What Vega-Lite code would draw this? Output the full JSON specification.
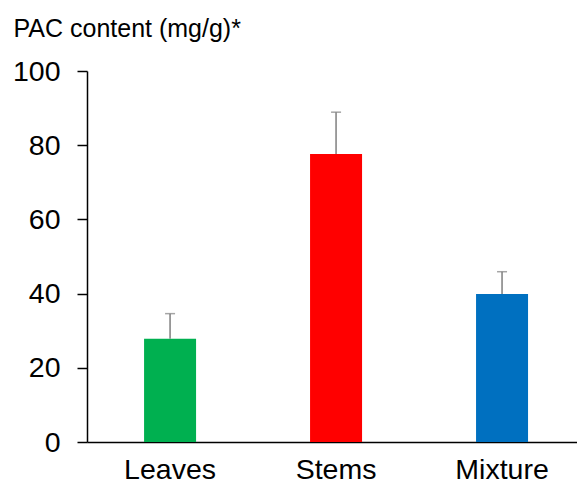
{
  "$schema": "https://vega.github.io/schema/vega-lite/v6.json",
  "autosize": "none",
  "padding": {"left": 87, "top": 71, "right": 0, "bottom": 48},
  "width": 490,
  "height": 371,
  "config": {"view": {"stroke": null}, "font": "Liberation Sans"},
  "data": {"values": [
    {"part": "Leaves", "pac": 27.8, "upper": 34.6, "color": "#00B050"},
    {"part": "Stems", "pac": 77.6, "upper": 88.9, "color": "#FF0000"},
    {"part": "Mixture", "pac": 39.9, "upper": 45.9, "color": "#0070C0"}
  ]},
  "encoding": {
    "x": {"field": "part", "type": "nominal", "sort": null,
      "scale": {"paddingInner": 0.1, "paddingOuter": 0.026, "align": 0.97},
      "axis": {"title": null, "labelAngle": 0, "labelFontSize": 28.5, "labelColor": "#000", "labelPadding": 13,
        "ticks": false, "domainColor": "#000", "domainWidth": 1.5}}
  },
  "layer": [
    {"mark": {"type": "bar", "size": 52},
     "encoding": {
       "y": {"field": "pac", "type": "quantitative",
         "scale": {"domain": [0, 100]},
         "axis": {"values": [0, 20, 40, 60, 80, 100], "grid": false, "title": "PAC content (mg/g)*",
           "titleAngle": 0, "titleAlign": "left", "titleBaseline": "alphabetic", "titleX": -74, "titleY": -35,
           "titleFontSize": 25, "titleFontWeight": "normal", "titleColor": "#000",
           "labelFontSize": 28.5, "labelColor": "#000", "labelPadding": 17, "tickSize": 10, "tickColor": "#000", "tickWidth": 1.5,
           "domainColor": "#000", "domainWidth": 1.5}},
       "color": {"field": "color", "type": "nominal", "scale": null}
     }},
    {"mark": {"type": "rule", "color": "#7f7f7f", "strokeWidth": 1.5},
     "encoding": {"y": {"field": "pac", "type": "quantitative"}, "y2": {"field": "upper"}}},
    {"mark": {"type": "tick", "orient": "horizontal", "size": 10, "thickness": 1.5, "color": "#7f7f7f"},
     "encoding": {"y": {"field": "upper", "type": "quantitative"}}}
  ]
}
